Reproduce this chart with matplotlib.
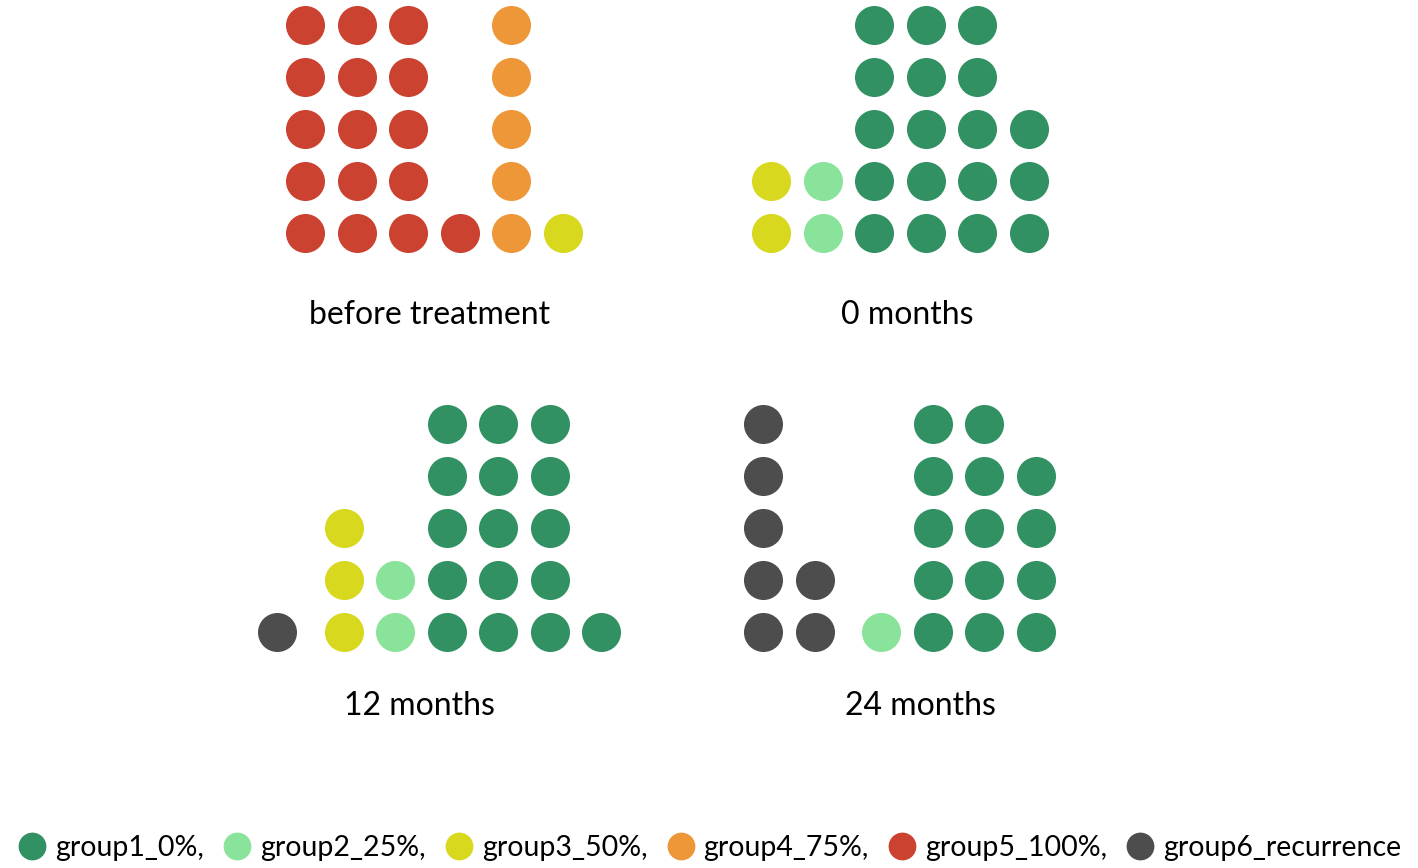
import numpy as np
import matplotlib.pyplot as plt
from matplotlib.lines import Line2D

plt.rcParams['font.family'] = ['Lato', 'DejaVu Sans']

# groups, ordered group1 .. group6
groups = ['group1_0%', 'group2_25%', 'group3_50%', 'group4_75%', 'group5_100%', 'group6_recurrence']
colors = ['#329163', '#8ae39a', '#d8d81e', '#ee9739', '#cb4230', '#4d4d4d']

# number of patients per group at each time point
panels = ['before treatment', '0 months', '12 months', '24 months']
before_treatment = [0, 0, 1, 5, 16, 0]
months_0 = [18, 2, 2, 0, 0, 0]
months_12 = [16, 2, 3, 0, 0, 1]
months_24 = [14, 1, 0, 0, 0, 7]
counts = [before_treatment, months_0, months_12, months_24]

W, H = 1418, 868
fig = plt.figure(figsize=(W / 100, H / 100), dpi=100)

# layout (pixels): first column centre x, bottom row centre y, title centre
dx, dy = 51.5, 52
origins = [(305, 233), (771, 233), (277, 632), (763, 632)]
titles_xy = [(430, 315), (907, 315), (419, 706), (920, 706)]
per_col = 5
gap_after_recurrence = 0.3

for p in range(4):
    x0, y0 = origins[p]
    ax = fig.add_axes([(x0 - 0.5 * dx) / W, (H - y0 - 0.5 * dy) / H, 9 * dx / W, 5 * dy / H])
    ax.set_xlim(-0.5, 8.5)
    ax.set_ylim(-0.5, 4.5)
    ax.axis('off')
    col = 0.0
    for g in range(5, -1, -1):
        n = counts[p][g]
        if n == 0:
            continue
        idx = np.arange(n)
        xs = col + idx // per_col
        ys = idx % per_col
        ax.scatter(xs, ys, s=790, color=colors[g], linewidths=0)
        col += int(np.ceil(n / per_col))
        if g == 5:
            col += gap_after_recurrence
    tx, ty = titles_xy[p]
    fig.text(tx / W, 1 - ty / H, panels[p], ha='center', va='center', fontsize=23)

handles = [Line2D([], [], marker='o', linestyle='none', markersize=20,
                  markerfacecolor=c, markeredgewidth=0) for c in colors]
labels = [g + ',' if i < 5 else g for i, g in enumerate(groups)]
fig.legend(handles, labels, loc='center', bbox_to_anchor=(0.5, 1 - 848 / H), ncol=6,
           frameon=False, fontsize=20.5, handletextpad=0.25, columnspacing=0.62,
           handlelength=1.1, borderaxespad=0)

fig.savefig('out.png', dpi=100, facecolor='white')
